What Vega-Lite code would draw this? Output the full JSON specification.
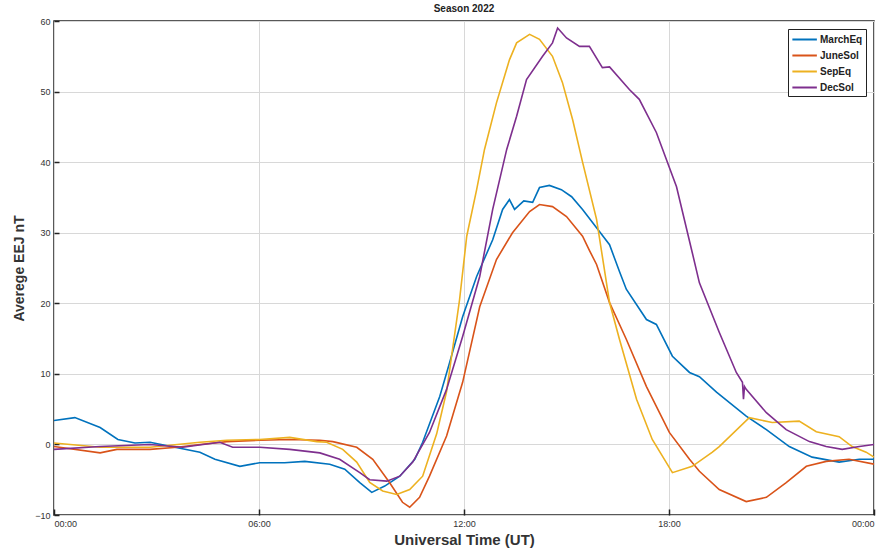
{
  "$schema": "https://vega.github.io/schema/vega-lite/v6.json",
  "autosize": "none",
  "width": 820,
  "height": 494,
  "padding": {"left": 54, "top": 21, "right": 15, "bottom": 43},
  "background": "white",
  "title": {"text": "Season 2022", "fontSize": 10, "font": "Liberation Sans", "fontWeight": "bold", "color": "#222", "offset": 3},
  "config": {
    "font": "Liberation Sans",
    "view": {"stroke": "#222", "strokeWidth": 1.5}
  },
  "data": {"values": [
    {"s":"MarchEq","h":0,"v":3.4},{"s":"MarchEq","h":0.61,"v":3.8},{"s":"MarchEq","h":1.35,"v":2.4},{"s":"MarchEq","h":1.87,"v":0.7},{"s":"MarchEq","h":2.37,"v":0.2},{"s":"MarchEq","h":2.81,"v":0.3},{"s":"MarchEq","h":3.54,"v":-0.4},{"s":"MarchEq","h":4.27,"v":-1.1},{"s":"MarchEq","h":4.71,"v":-2.1},{"s":"MarchEq","h":5.44,"v":-3.1},{"s":"MarchEq","h":6.02,"v":-2.6},{"s":"MarchEq","h":6.75,"v":-2.6},{"s":"MarchEq","h":7.34,"v":-2.4},{"s":"MarchEq","h":8.07,"v":-2.8},{"s":"MarchEq","h":8.51,"v":-3.5},{"s":"MarchEq","h":8.95,"v":-5.4},{"s":"MarchEq","h":9.30,"v":-6.8},{"s":"MarchEq","h":9.68,"v":-5.9},{"s":"MarchEq","h":10.12,"v":-4.5},{"s":"MarchEq","h":10.56,"v":-2.1},{"s":"MarchEq","h":10.79,"v":0.3},{"s":"MarchEq","h":11.29,"v":6.8},{"s":"MarchEq","h":11.58,"v":11.6},{"s":"MarchEq","h":11.96,"v":18.1},{"s":"MarchEq","h":12.37,"v":23.8},{"s":"MarchEq","h":12.84,"v":29},{"s":"MarchEq","h":13.13,"v":33.3},{"s":"MarchEq","h":13.33,"v":34.7},{"s":"MarchEq","h":13.48,"v":33.3},{"s":"MarchEq","h":13.75,"v":34.5},{"s":"MarchEq","h":14.01,"v":34.3},{"s":"MarchEq","h":14.21,"v":36.4},{"s":"MarchEq","h":14.50,"v":36.7},{"s":"MarchEq","h":14.85,"v":36.1},{"s":"MarchEq","h":15.15,"v":35.1},{"s":"MarchEq","h":15.47,"v":33.3},{"s":"MarchEq","h":15.88,"v":30.7},{"s":"MarchEq","h":16.26,"v":28.3},{"s":"MarchEq","h":16.55,"v":24.5},{"s":"MarchEq","h":16.75,"v":22},{"s":"MarchEq","h":17.34,"v":17.7},{"s":"MarchEq","h":17.63,"v":17},{"s":"MarchEq","h":18.10,"v":12.5},{"s":"MarchEq","h":18.60,"v":10.2},{"s":"MarchEq","h":18.89,"v":9.6},{"s":"MarchEq","h":19.39,"v":7.4},{"s":"MarchEq","h":20.26,"v":4},{"s":"MarchEq","h":20.85,"v":2.1},{"s":"MarchEq","h":21.52,"v":-0.3},{"s":"MarchEq","h":22.19,"v":-1.8},{"s":"MarchEq","h":22.98,"v":-2.5},{"s":"MarchEq","h":23.57,"v":-2.1},{"s":"MarchEq","h":24,"v":-2.1},

    {"s":"JuneSol","h":0,"v":-0.3},{"s":"JuneSol","h":1.35,"v":-1.2},{"s":"JuneSol","h":1.84,"v":-0.7},{"s":"JuneSol","h":2.81,"v":-0.7},{"s":"JuneSol","h":3.60,"v":-0.4},{"s":"JuneSol","h":4.27,"v":0},{"s":"JuneSol","h":5.06,"v":0.4},{"s":"JuneSol","h":6.02,"v":0.6},{"s":"JuneSol","h":6.90,"v":0.7},{"s":"JuneSol","h":7.78,"v":0.6},{"s":"JuneSol","h":8.16,"v":0.4},{"s":"JuneSol","h":8.86,"v":-0.4},{"s":"JuneSol","h":9.33,"v":-2.1},{"s":"JuneSol","h":9.82,"v":-5.4},{"s":"JuneSol","h":10.20,"v":-8.2},{"s":"JuneSol","h":10.41,"v":-8.9},{"s":"JuneSol","h":10.70,"v":-7.5},{"s":"JuneSol","h":10.99,"v":-4.5},{"s":"JuneSol","h":11.49,"v":1.2},{"s":"JuneSol","h":11.96,"v":8.8},{"s":"JuneSol","h":12.46,"v":19.5},{"s":"JuneSol","h":12.95,"v":26.2},{"s":"JuneSol","h":13.42,"v":30},{"s":"JuneSol","h":13.92,"v":33},{"s":"JuneSol","h":14.21,"v":34},{"s":"JuneSol","h":14.59,"v":33.7},{"s":"JuneSol","h":15.00,"v":32.3},{"s":"JuneSol","h":15.47,"v":29.5},{"s":"JuneSol","h":15.67,"v":27.5},{"s":"JuneSol","h":15.88,"v":25.5},{"s":"JuneSol","h":16.26,"v":20.1},{"s":"JuneSol","h":16.75,"v":14.9},{"s":"JuneSol","h":17.34,"v":8.2},{"s":"JuneSol","h":18.01,"v":1.7},{"s":"JuneSol","h":18.60,"v":-2.1},{"s":"JuneSol","h":18.89,"v":-3.8},{"s":"JuneSol","h":19.47,"v":-6.4},{"s":"JuneSol","h":20.26,"v":-8.1},{"s":"JuneSol","h":20.85,"v":-7.5},{"s":"JuneSol","h":21.43,"v":-5.4},{"s":"JuneSol","h":22.02,"v":-3.1},{"s":"JuneSol","h":22.60,"v":-2.4},{"s":"JuneSol","h":23.27,"v":-2.1},{"s":"JuneSol","h":24,"v":-2.8},

    {"s":"SepEq","h":0,"v":0.2},{"s":"SepEq","h":1.35,"v":-0.4},{"s":"SepEq","h":2.81,"v":-0.4},{"s":"SepEq","h":4.27,"v":0.3},{"s":"SepEq","h":5.06,"v":0.6},{"s":"SepEq","h":6.02,"v":0.7},{"s":"SepEq","h":6.90,"v":1.0},{"s":"SepEq","h":7.69,"v":0.4},{"s":"SepEq","h":7.98,"v":0.3},{"s":"SepEq","h":8.45,"v":-0.7},{"s":"SepEq","h":8.86,"v":-2.5},{"s":"SepEq","h":9.24,"v":-5.4},{"s":"SepEq","h":9.62,"v":-6.6},{"s":"SepEq","h":10.03,"v":-7.1},{"s":"SepEq","h":10.41,"v":-6.4},{"s":"SepEq","h":10.79,"v":-4.5},{"s":"SepEq","h":11.20,"v":1.5},{"s":"SepEq","h":11.49,"v":7.5},{"s":"SepEq","h":11.87,"v":20.5},{"s":"SepEq","h":12.08,"v":29.5},{"s":"SepEq","h":12.37,"v":36.1},{"s":"SepEq","h":12.60,"v":41.8},{"s":"SepEq","h":12.95,"v":48.4},{"s":"SepEq","h":13.33,"v":54.5},{"s":"SepEq","h":13.54,"v":56.9},{"s":"SepEq","h":13.92,"v":58.1},{"s":"SepEq","h":14.21,"v":57.4},{"s":"SepEq","h":14.59,"v":55},{"s":"SepEq","h":14.88,"v":51.3},{"s":"SepEq","h":15.18,"v":46},{"s":"SepEq","h":15.47,"v":40},{"s":"SepEq","h":15.88,"v":31.9},{"s":"SepEq","h":16.26,"v":20.1},{"s":"SepEq","h":16.55,"v":14.9},{"s":"SepEq","h":17.05,"v":6.4},{"s":"SepEq","h":17.51,"v":0.7},{"s":"SepEq","h":18.10,"v":-4},{"s":"SepEq","h":18.68,"v":-3.1},{"s":"SepEq","h":19.27,"v":-1.1},{"s":"SepEq","h":19.47,"v":-0.3},{"s":"SepEq","h":20.35,"v":3.8},{"s":"SepEq","h":21.02,"v":3.1},{"s":"SepEq","h":21.81,"v":3.3},{"s":"SepEq","h":22.31,"v":1.8},{"s":"SepEq","h":22.98,"v":1.1},{"s":"SepEq","h":23.36,"v":-0.3},{"s":"SepEq","h":23.77,"v":-1.1},{"s":"SepEq","h":24,"v":-1.8},

    {"s":"DecSol","h":0,"v":-0.7},{"s":"DecSol","h":1.35,"v":-0.3},{"s":"DecSol","h":2.81,"v":0},{"s":"DecSol","h":3.77,"v":-0.4},{"s":"DecSol","h":4.85,"v":0.3},{"s":"DecSol","h":5.23,"v":-0.4},{"s":"DecSol","h":6.02,"v":-0.4},{"s":"DecSol","h":6.90,"v":-0.7},{"s":"DecSol","h":7.78,"v":-1.2},{"s":"DecSol","h":8.36,"v":-2.1},{"s":"DecSol","h":8.95,"v":-4},{"s":"DecSol","h":9.24,"v":-5},{"s":"DecSol","h":9.74,"v":-5.2},{"s":"DecSol","h":10.12,"v":-4.5},{"s":"DecSol","h":10.50,"v":-2.5},{"s":"DecSol","h":10.99,"v":1.7},{"s":"DecSol","h":11.49,"v":7.8},{"s":"DecSol","h":11.96,"v":15.3},{"s":"DecSol","h":12.46,"v":23.8},{"s":"DecSol","h":12.84,"v":33.3},{"s":"DecSol","h":13.25,"v":41.8},{"s":"DecSol","h":13.54,"v":46.5},{"s":"DecSol","h":13.83,"v":51.7},{"s":"DecSol","h":14.30,"v":55},{"s":"DecSol","h":14.59,"v":56.9},{"s":"DecSol","h":14.74,"v":59},{"s":"DecSol","h":15.00,"v":57.6},{"s":"DecSol","h":15.38,"v":56.4},{"s":"DecSol","h":15.67,"v":56.4},{"s":"DecSol","h":16.05,"v":53.4},{"s":"DecSol","h":16.26,"v":53.5},{"s":"DecSol","h":16.84,"v":50.3},{"s":"DecSol","h":17.13,"v":48.9},{"s":"DecSol","h":17.63,"v":44.2},{"s":"DecSol","h":18.22,"v":36.5},{"s":"DecSol","h":18.68,"v":27.2},{"s":"DecSol","h":18.89,"v":22.9},{"s":"DecSol","h":19.47,"v":15.9},{"s":"DecSol","h":19.97,"v":10.2},{"s":"DecSol","h":20.15,"v":8.8},{"s":"DecSol","h":20.18,"v":6.4},{"s":"DecSol","h":20.21,"v":8.2},{"s":"DecSol","h":20.26,"v":7.8},{"s":"DecSol","h":20.85,"v":4.5},{"s":"DecSol","h":21.43,"v":2.1},{"s":"DecSol","h":22.11,"v":0.4},{"s":"DecSol","h":22.60,"v":-0.3},{"s":"DecSol","h":23.07,"v":-0.7},{"s":"DecSol","h":23.57,"v":-0.3},{"s":"DecSol","h":24,"v":0}
  ]},
  "mark": {"type": "line", "strokeWidth": 1.6, "clip": true},
  "encoding": {
    "x": {
      "field": "h", "type": "quantitative",
      "scale": {"domain": [0, 24], "nice": false, "zero": false},
      "axis": {
        "title": "Universal Time (UT)", "titleFontSize": 15, "titleFontWeight": "bold", "titleColor": "#333", "titlePadding": 4,
        "values": [0, 6, 12, 18, 24],
        "labelExpr": "datum.value == 24 ? '00:00' : (datum.value < 10 ? '0' : '') + datum.value + ':00'",
        "labelFontSize": 9, "labelColor": "#333", "labelPadding": 10,
        "tickSize": -6, "tickColor": "#222", "tickWidth": 1.5,
        "domain": false,
        "gridColor": "#d8d8d8", "gridWidth": 1
      }
    },
    "y": {
      "field": "v", "type": "quantitative",
      "scale": {"domain": [-10, 60], "nice": false, "zero": false},
      "axis": {
        "title": "Averege EEJ nT", "titleFontSize": 14, "titleFontWeight": "bold", "titleColor": "#333", "titlePadding": 8,
        "values": [-10, 0, 10, 20, 30, 40, 50, 60],
        "labelFontSize": 9, "labelColor": "#333", "labelPadding": 9,
        "tickSize": -5, "tickColor": "#222", "tickWidth": 1.5,
        "domain": false,
        "gridColor": "#d8d8d8", "gridWidth": 1
      }
    },
    "color": {
      "field": "s", "type": "nominal",
      "scale": {"domain": ["MarchEq", "JuneSol", "SepEq", "DecSol"], "range": ["#0072BD", "#D95319", "#EDB120", "#7E2F8E"]},
      "legend": {
        "title": null, "orient": "top-right", "offset": 8,
        "symbolType": "M-1,0H3", "symbolStrokeWidth": 2, "symbolSize": 150, "symbolFillColor": "transparent",
        "labelFontSize": 10, "labelFontWeight": "bold", "labelColor": "#222", "labelOffset": 14,
        "strokeColor": "#222", "fillColor": "white", "padding": 3, "rowPadding": 3
      }
    }
  }
}
